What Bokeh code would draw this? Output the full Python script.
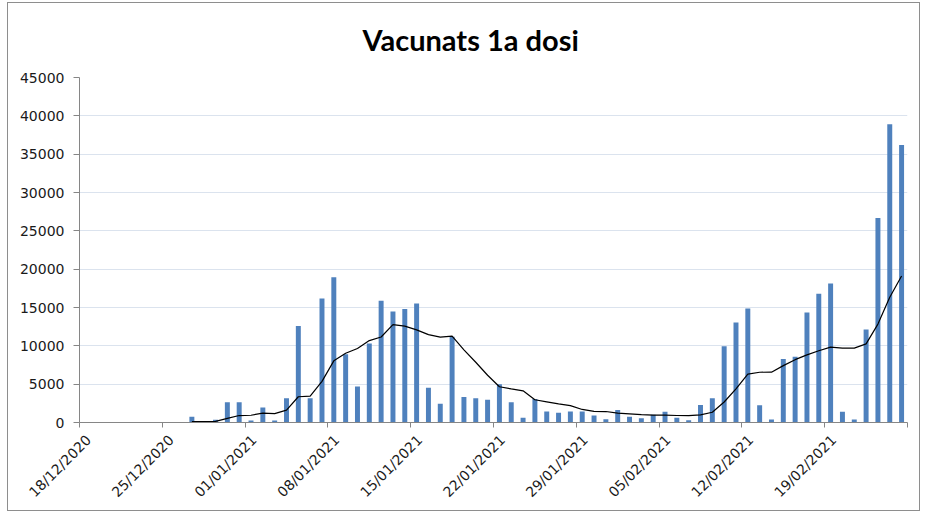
import math
import pandas as pd
from bokeh.plotting import figure
from bokeh.models import ColumnDataSource, FixedTicker, Range1d, Title, LinearAxis
from bokeh.embed import file_html
from bokeh.resources import INLINE

# ---- data ----
axis_start = "2020-12-18"
axis_end = "2021-02-26"
tick_labels = ["18/12/2020", "25/12/2020", "01/01/2021", "08/01/2021", "15/01/2021",
               "22/01/2021", "29/01/2021", "05/02/2021", "12/02/2021", "19/02/2021", ""]
first_day = "2020-12-27"
doses = [750, 0, 350, 2630, 2630, 260, 1970, 260, 3160, 12590,
         3160, 16180, 18950, 8900, 4690, 10300, 15880, 14470, 14820, 15530,
         4520, 2460, 11180, 3330, 3160, 2980, 5000, 2630, 614, 3070,
         1420, 1270, 1450, 1450, 920, 440, 1620, 750, 570, 1010,
         1400, 614, 300, 2280, 3150, 9950, 13050, 14880, 2260, 390,
         8270, 8570, 14350, 16790, 18140, 1390, 390, 12140, 26670, 38890,
         36190]
avg7 = [107, 107, 157, 533, 909, 946, 1227, 1157, 1609, 3357,
        3433, 5369, 8039, 9029, 9661, 10681, 11151, 12767, 12573, 12084,
        11459, 11140, 11266, 9473, 7857, 6166, 4661, 4391, 4128, 2969,
        2696, 2426, 2208, 1701, 1456, 1431, 1224, 1129, 1029, 966,
        959, 915, 895, 989, 1332, 2672, 4392, 6318, 6553, 6566,
        7421, 8196, 8824, 9359, 9824, 9700, 9700, 10253, 12839, 16344,
        19116]
y_ticks = [0, 5000, 10000, 15000, 20000, 25000, 30000, 35000, 40000, 45000]
title_text = "Vacunats 1a dosi"

# ---- derived positions (day slots on the axis) ----
t0 = pd.Timestamp(axis_start)
days = pd.date_range(first_day, periods=len(doses), freq="D")
xpos = [(d - t0).days + 0.5 for d in days]
n_days = (pd.Timestamp(axis_end) - t0).days
tick_pos = list(range(0, n_days + 1, 7))
label_shift = 0.76  # rotated labels end slightly right of their tick
label_pos = [t + label_shift for t in tick_pos]

src = ColumnDataSource(dict(x=xpos, doses=doses, avg=avg7))

p = figure(width=913, height=509, output_backend="svg", toolbar_location=None,
           x_range=Range1d(0, n_days), y_range=Range1d(0, 45000),
           min_border_left=71, min_border_right=14, min_border_top=74, min_border_bottom=90)
p.styles = {"border": "1px solid #8e8e8e", "margin-left": "7px", "margin-top": "2px"}

p.add_layout(Title(text=title_text, align="left", offset=283, standoff=37,
                   vertical_align="top",
                   text_font="Lato", text_font_size="29px", text_font_style="bold",
                   text_color="#000000"), "above")

p.vbar(x="x", top="doses", width=0.42, source=src, fill_color="#4F81BD", line_color=None)
p.line(x="x", y="avg", source=src, line_color="#000000", line_width=1.2)

p.outline_line_color = None
p.xgrid.grid_line_color = None
p.ygrid.grid_line_color = "#dbe3ee"
p.ygrid.grid_line_width = 1

p.yaxis.ticker = FixedTicker(ticks=y_ticks)
p.yaxis.axis_line_color = "#868686"
p.yaxis.major_tick_line_color = "#868686"
p.yaxis.major_tick_out = 6
p.yaxis.major_tick_in = 0
p.yaxis.minor_tick_line_color = None
p.yaxis.major_label_text_font = "DejaVu Sans"
p.yaxis.major_label_text_font_size = "14px"
p.yaxis.major_label_text_color = "#1a1a1a"
p.yaxis.major_label_standoff = 9

# main x axis: line and tick marks only
p.xaxis.ticker = FixedTicker(ticks=tick_pos)
p.xaxis.major_label_overrides = {t: "" for t in tick_pos}
p.xaxis.major_label_text_font_size = "1px"
p.xaxis.major_label_standoff = 0
p.xaxis.axis_line_color = "#868686"
p.xaxis.major_tick_line_color = "#868686"
p.xaxis.major_tick_out = 5
p.xaxis.major_tick_in = 0
p.xaxis.minor_tick_line_color = None

# label-only axis below it
lab_axis = LinearAxis(ticker=FixedTicker(ticks=label_pos),
                      major_label_overrides={lp: lab for lp, lab in zip(label_pos, tick_labels)},
                      axis_line_color=None, major_tick_line_color=None, minor_tick_line_color=None,
                      major_label_orientation=math.pi / 4,
                      major_label_text_font="DejaVu Sans", major_label_text_font_size="14px",
                      major_label_text_color="#1a1a1a", major_label_standoff=4)
p.add_layout(lab_axis, "below")

open("out.html", "w").write(file_html(p, INLINE))
